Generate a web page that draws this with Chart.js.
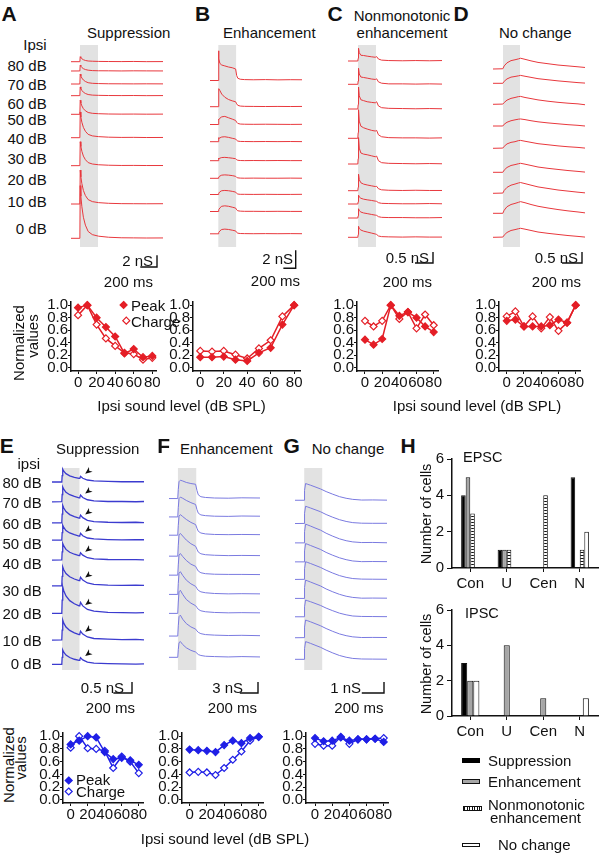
<!DOCTYPE html>
<html>
<head>
<meta charset="utf-8">
<title>Ipsilateral sound level effects</title>
<script src="https://cdn.jsdelivr.net/npm/chart.js@4.4.1/dist/chart.umd.min.js"></script>
<style>
  body { margin: 0; background: #fff; }
  #fig { position: relative; width: 600px; height: 853px; overflow: hidden; font-family: "Liberation Sans", Arial, sans-serif; color: #111; }
  #fig canvas { position: absolute; }
  .t { position: absolute; white-space: nowrap; font-size: 15px; line-height: 1; }
  .sw { position: absolute; box-sizing: border-box; }
</style>
</head>
<body>
<div id="fig"></div>
<script>
// ---------- data ----------
const soundLevels = [0, 10, 20, 30, 40, 50, 60, 70, 80];
const levelTicks = [0, 20, 40, 60, 80];
const normTicks = [0, 0.2, 0.4, 0.6, 0.8, 1.0];
const traceLabels = ['80 dB', '70 dB', '60 dB', '50 dB', '40 dB', '30 dB', '20 dB', '10 dB', '0 dB'];

// example conductance traces (ms, nS), rows 80 dB -> 0 dB
const timeA = [0, 106, 110, 118, 130, 148, 172, 205, 255, 330, 450, 600, 750, 900, 1100];
const tracesA = [
  [0, 0, 0.85, 0.68, 0.5, 0.34, 0.21, 0.12, 0.08, 0.05, 0.03, 0.02, 0.04, 0.01, 0.02],
  [0, 0.01, 1.0, 0.8, 0.6, 0.4, 0.25, 0.14, 0.07, 0.04, 0.03, 0.01, 0.03, 0.02, 0.01],
  [0, 0, 1.7, 1.36, 1.02, 0.68, 0.43, 0.22, 0.12, 0.07, 0.04, 0.03, 0.02, 0.03, 0.02],
  [0, 0.01, 1.5, 1.2, 0.9, 0.6, 0.38, 0.2, 0.1, 0.06, 0.03, 0.02, 0.03, 0.01, 0.02],
  [0, 0, 2.4, 1.92, 1.44, 0.96, 0.6, 0.31, 0.17, 0.1, 0.05, 0.03, 0.04, 0.02, 0.03],
  [0, 0, 4.4, 3.52, 2.64, 1.76, 1.1, 0.57, 0.31, 0.18, 0.09, 0.05, 0.06, 0.03, 0.04],
  [0, 0.01, 4.1, 3.28, 2.46, 1.64, 1.03, 0.53, 0.29, 0.16, 0.08, 0.04, 0.05, 0.03, 0.03],
  [0, 0, 5.8, 4.64, 3.48, 2.32, 1.45, 0.75, 0.41, 0.23, 0.12, 0.06, 0.05, 0.04, 0.05],
  [0, 0, 9.0, 7.2, 5.4, 3.6, 2.25, 1.17, 0.63, 0.36, 0.18, 0.09, 0.07, 0.05, 0.06]
];
const timeB = [0, 133, 138, 145, 160, 190, 240, 300, 360, 415, 432, 450, 490, 560, 700, 900, 1100, 1300, 1490];
const tracesB = [
  [0, 0, 3.3, 2.4, 1.9, 1.72, 1.62, 1.5, 1.42, 1.28, 0.55, 0.25, 0.14, 0.1, 0.08, 0.1, 0.07, 0.09, 0.08],
  [0, 0, 1.4, 2.0, 1.8, 1.4, 1.05, 0.8, 0.65, 0.55, 0.32, 0.15, 0.07, 0.04, 0.03, 0.02, 0.03, 0.02, 0.03],
  [0, 0, 0.6, 0.55, 0.7, 0.85, 0.9, 0.75, 0.6, 0.45, 0.25, 0.12, 0.05, 0.03, 0.02, 0.03, 0.02, 0.01, 0.02],
  [0, 0, 0.45, 0.35, 0.42, 0.52, 0.55, 0.48, 0.38, 0.3, 0.15, 0.07, 0.03, 0.02, 0.01, 0.02, 0.01, 0.02, 0.01],
  [0, 0, 0.3, 0.22, 0.28, 0.35, 0.37, 0.33, 0.28, 0.22, 0.1, 0.05, 0.02, 0.01, 0.02, 0.01, 0.02, 0.01, 0.01],
  [0, 0, 0.1, 0.15, 0.25, 0.35, 0.38, 0.35, 0.3, 0.22, 0.1, 0.05, 0.02, 0.01, 0.02, 0.01, 0.01, 0.02, 0.01],
  [0, 0, 0.08, 0.15, 0.3, 0.42, 0.45, 0.42, 0.35, 0.27, 0.12, 0.05, 0.02, 0.02, 0.01, 0.02, 0.01, 0.01, 0.02],
  [0, 0, 0.08, 0.2, 0.4, 0.58, 0.63, 0.58, 0.48, 0.38, 0.18, 0.08, 0.04, 0.02, 0.02, 0.01, 0.02, 0.01, 0.01],
  [0, 0, 0.06, 0.15, 0.32, 0.48, 0.52, 0.48, 0.4, 0.32, 0.15, 0.07, 0.03, 0.02, 0.01, 0.02, 0.01, 0.02, 0.01]
];
const timeC = [0, 109, 113, 117, 125, 143, 173, 213, 263, 303, 318, 338, 373, 453, 603, 753, 903, 1044];
const tracesC = [
  [0, 0, 0.12, 0.58, 0.38, 0.26, 0.25, 0.22, 0.19, 0.17, 0.2, 0.09, 0.04, 0.02, 0.01, 0.02, 0.01, 0.02],
  [0, 0, 0.15, 0.73, 0.47, 0.33, 0.31, 0.28, 0.24, 0.22, 0.25, 0.11, 0.05, 0.02, 0.02, 0.01, 0.02, 0.01],
  [0, 0, 0.2, 1.0, 0.6, 0.42, 0.38, 0.33, 0.3, 0.28, 0.33, 0.14, 0.06, 0.03, 0.02, 0.01, 0.02, 0.01],
  [0, 0, 0.26, 1.3, 0.78, 0.55, 0.48, 0.42, 0.36, 0.33, 0.36, 0.16, 0.07, 0.03, 0.02, 0.02, 0.01, 0.02],
  [0, 0, 0.24, 1.2, 0.72, 0.5, 0.45, 0.42, 0.37, 0.33, 0.36, 0.15, 0.06, 0.03, 0.02, 0.01, 0.02, 0.01],
  [0, 0, 0.15, 0.75, 0.5, 0.36, 0.3, 0.26, 0.22, 0.19, 0.2, 0.09, 0.04, 0.02, 0.01, 0.02, 0.01, 0.01],
  [0, 0, 0.1, 0.4, 0.32, 0.26, 0.22, 0.19, 0.16, 0.13, 0.12, 0.06, 0.03, 0.02, 0.01, 0.01, 0.02, 0.01],
  [0, 0, 0.1, 0.42, 0.34, 0.27, 0.23, 0.2, 0.16, 0.13, 0.12, 0.06, 0.03, 0.02, 0.02, 0.01, 0.01, 0.02],
  [0, 0, 0.12, 0.5, 0.4, 0.33, 0.28, 0.24, 0.19, 0.15, 0.13, 0.06, 0.03, 0.02, 0.01, 0.02, 0.01, 0.01]
];
const timeD = [0, 98, 112, 140, 180, 220, 255, 275, 320, 380, 450, 550, 650, 750, 850, 920];
const tracesD = [
  [0, 0.01, 0.14, 0.28, 0.38, 0.42, 0.46, 0.49, 0.44, 0.37, 0.3, 0.24, 0.18, 0.14, 0.1, 0.07],
  [0, 0, 0.09, 0.2, 0.28, 0.31, 0.34, 0.36, 0.32, 0.27, 0.21, 0.16, 0.11, 0.07, 0.03, 0.01],
  [0, 0.01, 0.08, 0.19, 0.27, 0.31, 0.35, 0.36, 0.31, 0.26, 0.2, 0.14, 0.09, 0.05, 0.02, -0.02],
  [0, 0, 0.08, 0.17, 0.24, 0.28, 0.31, 0.32, 0.29, 0.24, 0.19, 0.14, 0.1, 0.06, 0.03, 0.0],
  [0, 0.01, 0.09, 0.2, 0.27, 0.3, 0.35, 0.36, 0.32, 0.27, 0.21, 0.16, 0.11, 0.07, 0.04, 0.01],
  [0, 0, 0.1, 0.22, 0.31, 0.35, 0.39, 0.41, 0.37, 0.31, 0.24, 0.18, 0.13, 0.08, 0.04, 0.01],
  [0, 0.01, 0.13, 0.27, 0.37, 0.42, 0.47, 0.49, 0.44, 0.37, 0.29, 0.22, 0.15, 0.1, 0.05, 0.02],
  [0, 0, 0.14, 0.3, 0.4, 0.45, 0.5, 0.53, 0.48, 0.4, 0.32, 0.24, 0.17, 0.11, 0.06, 0.02],
  [0, 0.01, 0.1, 0.22, 0.31, 0.35, 0.39, 0.41, 0.37, 0.31, 0.24, 0.18, 0.13, 0.08, 0.04, 0.01]
];
const timeE = [0, 105, 109, 115, 126, 150, 190, 240, 290, 298, 306, 330, 380, 450, 600, 750, 900, 987];
const tracesE = [
  [0, 0, 0.29, 0.58, 0.49, 0.38, 0.28, 0.21, 0.16, 0.17, 0.26, 0.17, 0.09, 0.05, 0.03, 0.01, 0.02, 0.01],
  [0, 0.01, 0.34, 0.68, 0.58, 0.44, 0.33, 0.25, 0.19, 0.2, 0.31, 0.2, 0.1, 0.05, 0.02, 0.02, 0.01, 0.02],
  [0, 0, 0.4, 0.8, 0.68, 0.52, 0.38, 0.29, 0.22, 0.24, 0.36, 0.24, 0.12, 0.06, 0.03, 0.02, 0.03, 0.01],
  [0, 0, 0.34, 0.68, 0.58, 0.44, 0.33, 0.25, 0.19, 0.2, 0.31, 0.2, 0.1, 0.06, 0.03, 0.01, 0.02, 0.02],
  [0, 0.01, 0.38, 0.76, 0.65, 0.49, 0.36, 0.27, 0.21, 0.23, 0.34, 0.23, 0.11, 0.06, 0.03, 0.02, 0.02, 0.01],
  [0, 0, 0.43, 0.86, 0.73, 0.56, 0.41, 0.31, 0.24, 0.26, 0.39, 0.26, 0.13, 0.07, 0.03, 0.02, 0.03, 0.02],
  [0, 0, 0.6, 1.21, 1.03, 0.79, 0.58, 0.44, 0.34, 0.36, 0.5, 0.34, 0.18, 0.1, 0.05, 0.03, 0.02, 0.03],
  [0, 0.01, 0.45, 0.91, 0.77, 0.59, 0.44, 0.33, 0.25, 0.27, 0.4, 0.27, 0.14, 0.07, 0.04, 0.02, 0.03, 0.01],
  [0, 0, 0.32, 0.65, 0.55, 0.42, 0.31, 0.23, 0.18, 0.2, 0.3, 0.2, 0.1, 0.05, 0.03, 0.02, 0.01, 0.02]
];
const timeF = [0, 96, 102, 110, 125, 150, 190, 240, 292, 307, 322, 350, 400, 500, 650, 800, 999];
const tracesF = [
  [0, 0, 2.5, 4.6, 5.0, 4.8, 4.4, 4.1, 3.9, 2.2, 1.0, 0.5, 0.3, 0.15, 0.1, 0.2, 0.15],
  [0, 0, 2.6, 5.0, 5.4, 5.1, 4.5, 3.9, 3.4, 2.0, 1.0, 0.55, 0.35, 0.2, 0.15, 0.25, 0.2],
  [0, 0, 2.7, 5.2, 5.6, 5.1, 4.3, 3.5, 2.9, 1.9, 1.05, 0.6, 0.35, 0.2, 0.15, 0.2, 0.15],
  [0, 0, 3.0, 5.8, 6.2, 5.5, 4.4, 3.4, 2.7, 1.9, 1.1, 0.65, 0.4, 0.25, 0.15, 0.2, 0.15],
  [0, 0, 2.8, 5.5, 5.9, 5.1, 4.0, 3.0, 2.4, 1.7, 1.1, 0.65, 0.4, 0.25, 0.2, 0.2, 0.15],
  [0, 0, 3.0, 5.8, 6.2, 5.2, 3.9, 2.9, 2.2, 1.6, 1.1, 0.7, 0.45, 0.25, 0.15, 0.2, 0.15],
  [0, 0, 3.1, 5.9, 6.3, 5.2, 3.8, 2.8, 2.1, 1.6, 1.1, 0.7, 0.45, 0.25, 0.15, 0.2, 0.15],
  [0, 0, 2.8, 5.3, 5.7, 4.6, 3.4, 2.5, 1.9, 1.4, 1.0, 0.65, 0.4, 0.25, 0.15, 0.2, 0.1],
  [0, 0, 2.1, 4.0, 4.3, 3.5, 2.6, 1.9, 1.45, 1.1, 0.75, 0.5, 0.3, 0.2, 0.1, 0.2, 0.1]
];
const timeG = [0, 81, 86, 95, 110, 140, 180, 230, 280, 340, 400, 460, 520, 600, 700, 828];
const tracesG = [
  [0, 0, 0.9, 1.52, 1.47, 1.37, 1.22, 1.03, 0.79, 0.55, 0.33, 0.18, 0.08, 0.02, 0.03, 0.01],
  [0, 0.01, 0.94, 1.57, 1.52, 1.41, 1.26, 1.07, 0.82, 0.57, 0.35, 0.19, 0.08, 0.03, 0.02, 0.02],
  [0, 0, 1.02, 1.7, 1.65, 1.53, 1.36, 1.16, 0.88, 0.61, 0.37, 0.2, 0.09, 0.03, 0.04, 0.01],
  [0, 0, 1.0, 1.66, 1.61, 1.49, 1.33, 1.13, 0.86, 0.6, 0.37, 0.2, 0.08, 0.02, 0.03, 0.02],
  [0, 0.01, 0.97, 1.61, 1.56, 1.45, 1.29, 1.09, 0.84, 0.58, 0.35, 0.19, 0.08, 0.03, 0.02, 0.01],
  [0, 0, 1.0, 1.66, 1.61, 1.49, 1.33, 1.13, 0.86, 0.6, 0.37, 0.2, 0.09, 0.02, 0.03, 0.02],
  [0, 0, 0.91, 1.52, 1.47, 1.37, 1.22, 1.03, 0.79, 0.55, 0.33, 0.18, 0.07, 0.03, 0.02, 0.01],
  [0, 0.01, 0.97, 1.61, 1.56, 1.45, 1.29, 1.09, 0.84, 0.58, 0.35, 0.19, 0.08, 0.02, 0.03, 0.02],
  [0, 0, 0.97, 1.61, 1.56, 1.45, 1.29, 1.09, 0.84, 0.58, 0.35, 0.19, 0.08, 0.03, 0.02, 0.01]
];

// normalized peak / charge vs ipsi level
const peakA = [0.96, 1.0, 0.8, 0.65, 0.5, 0.23, 0.3, 0.17, 0.19];
const chargeA = [0.84, 1.0, 0.69, 0.47, 0.35, 0.24, 0.22, 0.13, 0.16];
const peakB = [0.17, 0.17, 0.18, 0.13, 0.11, 0.24, 0.32, 0.69, 1.0];
const chargeB = [0.27, 0.26, 0.27, 0.21, 0.15, 0.31, 0.44, 0.82, 1.0];
const peakC = [0.45, 0.37, 0.46, 1.0, 0.83, 0.89, 0.8, 0.66, 0.57];
const chargeC = [0.75, 0.66, 0.75, 1.0, 0.78, 0.89, 0.63, 0.85, 0.68];
const peakD = [0.75, 0.77, 0.66, 0.66, 0.66, 0.68, 0.77, 0.72, 1.0];
const chargeD = [0.82, 0.9, 0.66, 0.82, 0.63, 0.81, 0.59, 0.72, 1.0];
const peakE = [0.87, 0.93, 1.0, 0.98, 0.75, 0.64, 0.66, 0.62, 0.55];
const chargeE = [0.82, 1.0, 0.81, 0.8, 0.77, 0.5, 0.68, 0.6, 0.42];
const peakF = [0.79, 0.78, 0.77, 0.75, 0.86, 0.93, 0.89, 0.97, 0.99];
const chargeF = [0.43, 0.44, 0.43, 0.39, 0.5, 0.63, 0.76, 0.93, 0.99];
const peakG = [0.97, 0.92, 0.93, 0.98, 0.93, 0.95, 0.95, 0.96, 0.91];
const chargeG = [0.88, 0.85, 0.85, 0.99, 0.88, 0.95, 0.95, 0.96, 0.97];

// cell counts by region
const cellCategories = ['Con', 'U', 'Cen', 'N'];
const cellTicks = [0, 2, 4, 6];
const epscSuppression = [4, 1, 0, 5];
const epscEnhancement = [5, 1, 0, 0];
const epscNonmonotonic = [3, 1, 4, 1];
const epscNoChange = [0, 0, 0, 2];
const ipscSuppression = [3, 0, 0, 0];
const ipscEnhancement = [2, 4, 1, 0];
const ipscNoChange = [2, 0, 0, 1];

// ---------- setup ----------
Chart.defaults.font.family = '"Liberation Sans", Arial, sans-serif';
Chart.defaults.font.size = 15;
Chart.defaults.color = '#111';
Chart.defaults.animation = false;
Chart.defaults.responsive = false;
Chart.defaults.plugins.legend.display = false;
Chart.defaults.plugins.tooltip.enabled = false;

const fig = document.getElementById('fig');
const RED = '#e8383d', RED_DARK = '#e41e26', BLUE_DARK = '#3b3bcf', BLUE_LIGHT = '#7a7ae0', BLUE = '#1f1fe6';

function addCanvas(l, t, w, h) {
  const c = document.createElement('canvas');
  c.width = Math.round(w); c.height = Math.round(h);
  c.style.left = l + 'px'; c.style.top = t + 'px';
  c.style.width = Math.round(w) + 'px'; c.style.height = Math.round(h) + 'px';
  fig.appendChild(c);
  return c;
}

function txt(s, x, y, o = {}) {
  const d = document.createElement('div');
  d.className = 't';
  d.textContent = s;
  d.style.left = x + 'px';
  d.style.top = y + 'px';
  const ax = o.align === 'right' ? '-100%' : o.align === 'center' ? '-50%' : '0';
  d.style.transform = 'translate(' + ax + ',-50%)' + (o.rot ? ' rotate(-90deg)' : '');
  if (o.size) d.style.fontSize = o.size + 'px';
  if (o.bold) d.style.fontWeight = 'bold';
  fig.appendChild(d);
}

// ---------- trace panels ----------
const traceDecor = {
  id: 'traceDecor',
  beforeDatasetsDraw(chart, args, o) {
    const { ctx, chartArea: a, scales: { x } } = chart;
    const x0 = x.getPixelForValue(o.on), x1 = x.getPixelForValue(o.off);
    ctx.save();
    ctx.fillStyle = '#e2e2e2';
    ctx.fillRect(x0, a.top, x1 - x0, a.bottom - a.top);
    ctx.restore();
  },
  afterDatasetsDraw(chart, args, o) {
    const { ctx, scales: { x, y } } = chart;
    const w = x.getPixelForValue(200) - x.getPixelForValue(0);
    const h = y.getPixelForValue(0) - y.getPixelForValue(o.nS);
    ctx.save();
    ctx.strokeStyle = '#111';
    ctx.lineWidth = 1.4;
    ctx.beginPath();
    ctx.moveTo(o.barX - w, o.barY);
    ctx.lineTo(o.barX, o.barY);
    ctx.lineTo(o.barX, o.barY - h);
    ctx.stroke();
    if (o.arrowT) {
      ctx.fillStyle = '#111';
      chart.data.datasets.forEach(ds => {
        const px = x.getPixelForValue(o.arrowT);
        const py = y.getPixelForValue(ds.data[0].y + o.arrowDy);
        ctx.beginPath();
        ctx.moveTo(px, py);
        ctx.lineTo(px + 7.4, py - 1.8);
        ctx.lineTo(px + 4, py - 3);
        ctx.lineTo(px + 3.8, py - 6.6);
        ctx.closePath();
        ctx.fill();
      });
    }
    ctx.restore();
  }
};

const tracePanels = [
  { t: timeA, traces: tracesA, color: RED, width: 1, area: [71, 45, 163, 247], xMax: 1100, stim: [108, 323], pxPerNS: 5.85,
    base: [61.7, 71, 84, 95.7, 114.3, 137.7, 165.7, 204, 238.3], bar: { nS: 2, x: 157, y: 267 } },
  { t: timeB, traces: tracesB, color: RED, width: 1, area: [210, 45, 301.7, 247], xMax: 1490, stim: [135, 423], pxPerNS: 9,
    base: [80.5, 106.7, 124.5, 141.7, 160.7, 178.3, 194.5, 211.5, 233.8], bar: { nS: 2, x: 295.7, y: 268.3 } },
  { t: timeC, traces: tracesC, color: RED, width: 1, area: [348, 45, 442, 247], xMax: 1044, stim: [111, 311], pxPerNS: 22,
    base: [61, 84.3, 109, 138.3, 164, 190.7, 204, 218, 237.3], bar: { nS: 0.5, x: 433, y: 263 } },
  { t: timeD, traces: tracesD, color: RED, width: 1, area: [493, 45, 585, 247], xMax: 920, stim: [100, 270], pxPerNS: 22,
    base: [69, 83.3, 104.3, 126, 148.3, 172.3, 193.3, 213.3, 237.3], bar: { nS: 0.5, x: 582, y: 263 } },
  { t: timeE, traces: tracesE, color: BLUE_DARK, width: 1.3, area: [51.7, 467.7, 144, 670], xMax: 987, stim: [107, 295], pxPerNS: 22,
    base: [481.7, 501.7, 522.7, 540, 560, 585.7, 613.3, 640, 664.3], bar: { nS: 0.5, x: 131.7, y: 692.7 }, arrow: { t: 356, dy: 0.38 } },
  { t: timeF, traces: tracesF, color: BLUE_LIGHT, width: 1, area: [169.3, 467.7, 260.7, 670], xMax: 999, stim: [98, 299], pxPerNS: 3.67,
    base: [498.3, 516.7, 535, 556, 575, 594.3, 613.3, 636, 657.3], bar: { nS: 3, x: 258.3, y: 692.7 } },
  { t: timeG, traces: tracesG, color: BLUE_LIGHT, width: 1, area: [295, 467.7, 387.3, 670], xMax: 828, stim: [83, 245], pxPerNS: 11,
    base: [500, 523.3, 542.7, 561.7, 579.3, 598.3, 616.7, 637.7, 659.3], bar: { nS: 1, x: 384, y: 692.7 } }
];

function makeTraceChart(p) {
  const pad = { l: 4, r: 6, t: 4, b: 50 };
  const [x0, y0, x1, y1] = p.area;
  const cl = x0 - pad.l, ct = y0 - pad.t;
  const c = addCanvas(cl, ct, x1 - x0 + pad.l + pad.r, y1 - y0 + pad.t + pad.b);
  const yMax = (y1 - y0) / p.pxPerNS;
  new Chart(c, {
    type: 'line',
    data: {
      datasets: p.traces.map((tr, i) => {
        const b = (y1 - p.base[i]) / p.pxPerNS;
        return {
          data: p.t.map((t, k) => ({ x: t, y: b + tr[k] })),
          borderColor: p.color, borderWidth: p.width, pointRadius: 0, tension: 0, clip: false
        };
      })
    },
    options: {
      layout: { padding: { left: pad.l, right: pad.r, top: pad.t, bottom: pad.b } },
      scales: {
        x: { type: 'linear', display: false, min: 0, max: p.xMax },
        y: { display: false, min: 0, max: yMax }
      },
      plugins: {
        traceDecor: {
          on: p.stim[0], off: p.stim[1], nS: p.bar.nS,
          barX: p.bar.x - cl, barY: p.bar.y - ct,
          arrowT: p.arrow ? p.arrow.t : 0, arrowDy: p.arrow ? p.arrow.dy : 0
        }
      }
    },
    plugins: [traceDecor]
  });
}
tracePanels.forEach(makeTraceChart);

// ---------- normalized value panels ----------
function diamond(ctx, x, y, r, fill, stroke) {
  ctx.beginPath();
  ctx.moveTo(x, y - r); ctx.lineTo(x + r, y); ctx.lineTo(x, y + r); ctx.lineTo(x - r, y);
  ctx.closePath();
  ctx.fillStyle = fill; ctx.fill();
  ctx.strokeStyle = stroke; ctx.lineWidth = 1.2; ctx.stroke();
}
const markerLegend = {
  id: 'markerLegend',
  afterDraw(chart, args, o) {
    if (!o.pts) return;
    const ctx = chart.ctx;
    ctx.save();
    diamond(ctx, o.pts[0], o.pts[1], 3.5, o.color, o.color);
    diamond(ctx, o.pts[2], o.pts[3], 3.5, '#fff', o.color);
    ctx.restore();
  }
};

const levelPanels = [
  { area: [70.7, 302, 155.4, 371], xMin: -7.6, xMax: 84, peak: peakA, charge: chargeA, color: RED_DARK, legend: [123.3, 305, 126, 320.7] },
  { area: [192.7, 302, 299.9, 371], xMin: -6.2, xMax: 85, peak: peakB, charge: chargeB, color: RED_DARK },
  { area: [357.3, 302, 438.6, 371], xMin: -9.3, xMax: 85, peak: peakC, charge: chargeC, color: RED_DARK },
  { area: [499, 302, 579.6, 371], xMin: -9, xMax: 85, peak: peakD, charge: chargeD, color: RED_DARK },
  { area: [63.3, 732.5, 143.6, 802.7], xMin: -9, xMax: 85, peak: peakE, charge: chargeE, color: BLUE, legend: [69, 780, 69, 791] },
  { area: [181.7, 732.5, 262.6, 802.7], xMin: -8.8, xMax: 85, peak: peakF, charge: chargeF, color: BLUE },
  { area: [306, 732.5, 387.6, 802.7], xMin: -10.5, xMax: 85, peak: peakG, charge: chargeG, color: BLUE }
];

function axisStyle(tickLength) {
  return {
    grid: { drawOnChartArea: false, drawTicks: true, tickLength: tickLength, color: '#111', tickWidth: 1 },
    border: { display: true, color: '#111', width: 1.5 }
  };
}

function makeLevelChart(p) {
  const m = { l: 30, r: 10, t: 10, b: 24 };
  const [x0, y0, x1, y1] = p.area;
  const cl = x0 - m.l, ct = y0 - m.t;
  const c = addCanvas(cl, ct, x1 - x0 + m.l + m.r, y1 - y0 + m.t + m.b);
  const pts = s => soundLevels.map((lv, i) => ({ x: lv, y: s[i] }));
  const common = { borderColor: p.color, borderWidth: 1.5, pointStyle: 'rectRot', pointRadius: 3.5,
    pointBorderWidth: 1.2, pointBorderColor: p.color, tension: 0, clip: false };
  new Chart(c, {
    type: 'line',
    data: {
      datasets: [
        Object.assign({ label: 'Peak', data: pts(p.peak), pointBackgroundColor: p.color, backgroundColor: p.color }, common),
        Object.assign({ label: 'Charge', data: pts(p.charge), pointBackgroundColor: '#fff', backgroundColor: '#fff' }, common)
      ]
    },
    options: {
      layout: { padding: { left: 0, right: m.r, top: m.t, bottom: 0 } },
      scales: {
        x: Object.assign({
          type: 'linear', min: p.xMin, max: p.xMax,
          afterFit: s => { s.height = m.b; },
          afterBuildTicks: s => { s.ticks = levelTicks.map(v => ({ value: v })); },
          ticks: { autoSkip: false, maxRotation: 0, minRotation: 0, padding: 0, color: '#111' }
        }, axisStyle(3)),
        y: Object.assign({
          min: -0.05, max: 1.05,
          afterFit: s => { s.width = m.l; },
          afterBuildTicks: s => { s.ticks = normTicks.map(v => ({ value: v })); },
          ticks: { autoSkip: false, padding: 0, color: '#111', callback: v => v.toFixed(1) }
        }, axisStyle(3))
      },
      plugins: {
        markerLegend: p.legend ? { color: p.color,
          pts: [p.legend[0] - cl, p.legend[1] - ct, p.legend[2] - cl, p.legend[3] - ct] } : {}
      }
    },
    plugins: [markerLegend]
  });
}
levelPanels.forEach(makeLevelChart);

// ---------- cell count panels ----------
function makeCellChart(area, series) {
  const m = { l: 30, r: 6, t: 10, b: 26 };
  const [x0, y0, x1, y1] = area;
  const c = addCanvas(x0 - m.l, y0 - m.t, x1 - x0 + m.l + m.r, y1 - y0 + m.t + m.b);
  const tile = document.createElement('canvas');
  tile.width = 3; tile.height = 3;
  const g = tile.getContext('2d');
  g.fillStyle = '#fff'; g.fillRect(0, 0, 3, 3);
  g.fillStyle = '#111'; g.fillRect(0, 0, 3, 1);
  const hatch = c.getContext('2d').createPattern(tile, 'repeat');
  new Chart(c, {
    type: 'bar',
    data: {
      labels: cellCategories,
      datasets: series.map(s => ({
        label: s.label, data: s.data,
        backgroundColor: s.fill === 'hatch' ? hatch : s.fill,
        borderColor: '#111', borderWidth: 1,
        categoryPercentage: 0.5, barPercentage: 1
      }))
    },
    options: {
      layout: { padding: { left: 0, right: m.r, top: m.t, bottom: 0 } },
      scales: {
        x: {
          afterFit: s => { s.height = m.b; },
          grid: { offset: false, drawOnChartArea: false, tickLength: 4, color: '#111' },
          border: { display: true, color: '#111', width: 1.5 },
          ticks: { autoSkip: false, maxRotation: 0, padding: 3, color: '#111' }
        },
        y: {
          min: 0, max: 6,
          afterFit: s => { s.width = m.l; },
          afterBuildTicks: s => { s.ticks = cellTicks.map(v => ({ value: v })); },
          grid: { drawOnChartArea: false, tickLength: 5, color: '#111' },
          border: { display: true, color: '#111', width: 1.5 },
          ticks: { autoSkip: false, padding: 3, color: '#111' }
        }
      }
    }
  });
}
makeCellChart([452.3, 457.3, 598.3, 568.3], [
  { label: 'Suppression', data: epscSuppression, fill: '#000' },
  { label: 'Enhancement', data: epscEnhancement, fill: '#a6a6a6' },
  { label: 'Nonmonotonic enhancement', data: epscNonmonotonic, fill: 'hatch' },
  { label: 'No change', data: epscNoChange, fill: '#fff' }
]);
makeCellChart([452.3, 608.3, 598.3, 716], [
  { label: 'Suppression', data: ipscSuppression, fill: '#000' },
  { label: 'Enhancement', data: ipscEnhancement, fill: '#a6a6a6' },
  { label: 'No change', data: ipscNoChange, fill: '#fff' }
]);

// ---------- text ----------
[['A', 9, 12.5], ['B', 202.5, 12.5], ['C', 335, 12.5], ['D', 461, 12.5],
 ['E', 6.7, 445], ['F', 163.7, 445], ['G', 291.7, 445], ['H', 408, 445]]
  .forEach(([s, x, y]) => txt(s, x, y, { align: 'center', bold: true, size: 21 }));

txt('Suppression', 87, 32);
txt('Enhancement', 223, 32);
txt('Nonmonotonic', 402, 15, { align: 'center' });
txt('enhancement', 402, 32, { align: 'center' });
txt('No change', 499, 32);
txt('Suppression', 56, 447.7);
txt('Enhancement', 180, 447.7);
txt('No change', 311.7, 447.7);

txt('Ipsi', 46.7, 44, { align: 'right' });
[65, 84, 102.5, 119, 137.5, 157.5, 179, 200.8, 227.5]
  .forEach((y, i) => txt(traceLabels[i], 46.7, y, { align: 'right' }));
txt('ipsi', 40, 463, { align: 'right' });
[481.7, 501.7, 522.7, 542.7, 562.7, 590, 613.3, 640, 663.3]
  .forEach((y, i) => txt(traceLabels[i], 41.7, y, { align: 'right' }));

// scale bar labels
[['2 nS', 153, 259.5, '200 ms', 153, 281], ['2 nS', 293, 258, '200 ms', 300, 280],
 ['0.5 nS', 429, 257, '200 ms', 432, 281], ['0.5 nS', 578, 257, '200 ms', 581, 281],
 ['0.5 nS', 124, 686.7, '200 ms', 135, 706.7], ['3 nS', 243, 686.7, '200 ms', 257, 706.7],
 ['1 nS', 361, 686.7, '200 ms', 383.5, 706.7]]
  .forEach(([a, ax, ay, b, bx, by]) => { txt(a, ax, ay, { align: 'right' }); txt(b, bx, by, { align: 'right' }); });

txt('Normalized', 17.5, 342.5, { align: 'center', rot: true });
txt('values', 31.7, 336, { align: 'center', rot: true });
txt('Normalized', 7.5, 765, { align: 'center', rot: true });
txt('values', 19.5, 758, { align: 'center', rot: true });
txt('Peak', 131, 305);
txt('Charge', 131, 320.7);
txt('Peak', 76, 779);
txt('Charge', 76, 791);
txt('Ipsi sound level (dB SPL)', 181.5, 405, { align: 'center' });
txt('Ipsi sound level (dB SPL)', 477, 405, { align: 'center' });
txt('Ipsi sound level (dB SPL)', 225, 838.3, { align: 'center' });

txt('EPSC', 463, 456.7, { size: 14.5 });
txt('IPSC', 465, 613.3, { size: 14.5 });
txt('Number of cells', 426, 514, { align: 'center', rot: true, size: 14.5 });
txt('Number of cells', 426, 664, { align: 'center', rot: true, size: 14.5 });

// bar legend
function swatch(x, y, w, h, css) {
  const d = document.createElement('div');
  d.className = 'sw';
  d.style.left = x + 'px'; d.style.top = y + 'px';
  d.style.width = w + 'px'; d.style.height = h + 'px';
  d.style.cssText += css;
  fig.appendChild(d);
}
swatch(461.7, 757.5, 18.5, 5, 'background:#000;');
swatch(461.7, 779.3, 18.5, 4.5, 'background:#a6a6a6;border:1px solid #111;');
swatch(463, 806, 18.5, 4.8, 'background:repeating-linear-gradient(90deg,#111 0 1px,#fff 1px 2.5px);border:1px solid #111;');
swatch(461.7, 842.8, 18.5, 4.5, 'background:#fff;border:1px solid #111;');
txt('Suppression', 488, 760);
txt('Enhancement', 488, 780.7);
txt('Nonmonotonic', 488, 804.3);
txt('enhancement', 490, 817.3);
txt('No change', 498, 844);
</script>
</body>
</html>
